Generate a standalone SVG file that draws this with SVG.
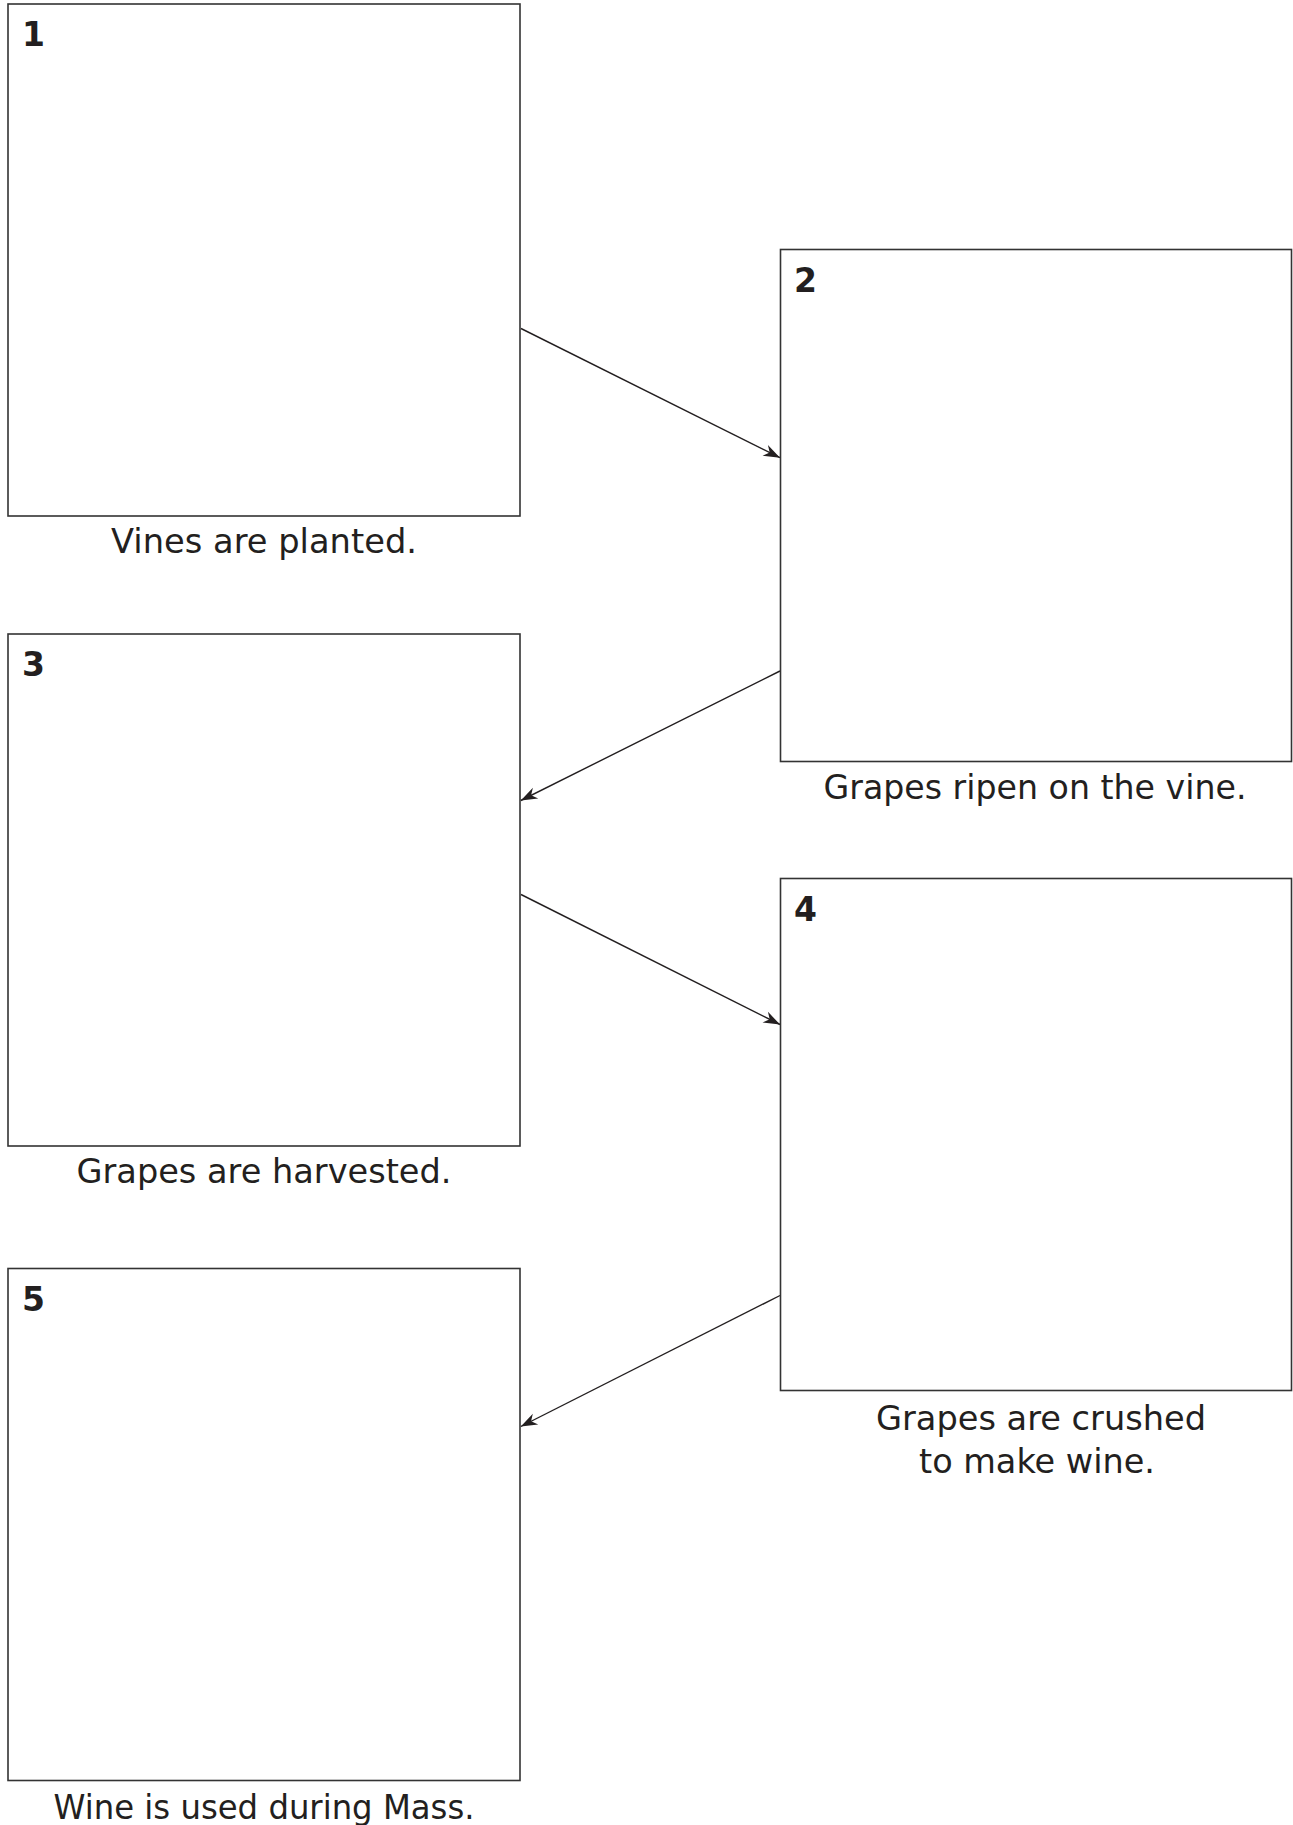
<svg xmlns="http://www.w3.org/2000/svg" width="1293" height="1825" viewBox="0 0 1293 1825">
<style>
.box{fill:#fff;stroke:#333;stroke-width:1.6}
.num{font-family:"DejaVu Sans","Liberation Sans",sans-serif;font-weight:bold;font-size:33px;fill:#231f20}
.cap{font-family:"DejaVu Sans","Liberation Sans",sans-serif;font-size:33px;fill:#231f20;text-anchor:middle}
.conn{stroke:#231f20;stroke-width:1.4;fill:none;marker-end:url(#ah)}
</style>
<defs>
<marker id="ah" markerUnits="userSpaceOnUse" markerWidth="20" markerHeight="14" refX="17" refY="6.5" orient="auto" viewBox="0 0 20 13">
<path d="M17,6.5 L0.5,0.5 L5.5,6.5 L0.5,12.5 Z" fill="#231f20"/>
</marker>
</defs>
<rect width="1293" height="1825" fill="#fff"/>
<g id="connectors">
<line class="conn" x1="521" y1="328.5" x2="780" y2="457.7"/>
<line class="conn" x1="780" y1="671" x2="520.8" y2="800.5"/>
<line class="conn" x1="521" y1="894.5" x2="780" y2="1024.5"/>
<line class="conn" x1="780" y1="1295.5" x2="520.8" y2="1426.5"/>
</g>
<g id="node1">
<rect class="box" x="8" y="4" width="512" height="512"/>
<text class="num" x="22" y="46">1</text>
<text class="cap" x="264" y="553" textLength="306" lengthAdjust="spacingAndGlyphs">Vines are planted.</text>
</g>
<g id="node2">
<rect class="box" x="780.5" y="249.5" width="511" height="512"/>
<text class="num" x="794" y="292">2</text>
<text class="cap" x="1035" y="799" textLength="423" lengthAdjust="spacingAndGlyphs">Grapes ripen on the vine.</text>
</g>
<g id="node3">
<rect class="box" x="8" y="634" width="512" height="512"/>
<text class="num" x="22" y="676">3</text>
<text class="cap" x="264" y="1183" textLength="375" lengthAdjust="spacingAndGlyphs">Grapes are harvested.</text>
</g>
<g id="node4">
<rect class="box" x="780.5" y="878.5" width="511" height="512"/>
<text class="num" x="794" y="921">4</text>
<text class="cap" x="1041" y="1430" textLength="330" lengthAdjust="spacingAndGlyphs">Grapes are crushed</text>
<text class="cap" x="1037" y="1473" textLength="236" lengthAdjust="spacingAndGlyphs">to make wine.</text>
</g>
<g id="node5">
<rect class="box" x="8" y="1268.5" width="512" height="512"/>
<text class="num" x="22" y="1311">5</text>
<text class="cap" x="264" y="1818.5" textLength="421" lengthAdjust="spacingAndGlyphs">Wine is used during Mass.</text>
</g>
</svg>
